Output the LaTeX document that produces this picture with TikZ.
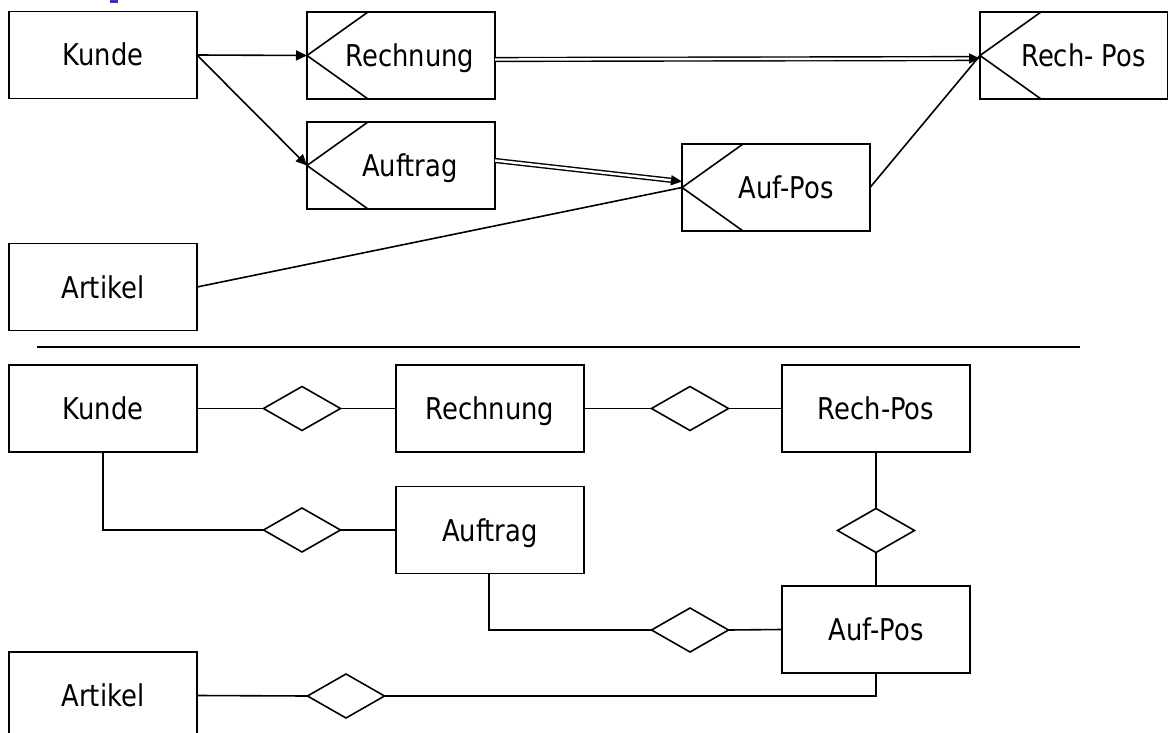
\documentclass[tikz,border=0pt]{standalone}
\usepackage{fontspec}
\setmainfont{DejaVu Sans}[FakeStretch=0.86]
\usetikzlibrary{arrows.meta,shapes.geometric,calc}
\definecolor{frag}{RGB}{51,51,204}
\begin{document}
\begin{tikzpicture}[x=1pt,y=-1pt,
  ent/.style={draw, line width=1.7pt, minimum width=188pt, minimum height=87pt, inner sep=0pt, outer sep=0pt, text height=22pt, text depth=0pt, font=\fontsize{30}{36}\selectfont},
  rel/.style={draw, diamond, line width=1.6pt, minimum width=77pt, minimum height=44pt, inner sep=0pt, outer sep=0pt, shape aspect=1.75},
  con/.style={line width=1.6pt},
  arr/.style={line width=1.6pt, -{Triangle[length=11pt,width=10pt]}},
  dbl/.style={line width=1.4pt, double distance=2.4pt},
]
\useasboundingbox (0,0) rectangle (1168,733);
\clip (0,0) rectangle (1168,733);
\fill[frag] (110,0) rectangle (118,3.5);

% ---- top diagram ----
\node[ent] (k1) at (103,55) {Kunde};
\node[ent] (r1) at (401,55.5) {\hspace{18pt}Rechnung};
\node[ent] (rp1) at (1074,55.5) {\hspace{19pt}Rech- Pos};
\node[ent] (a1) at (401,165.5) {\hspace{18pt}Auftrag};
\node[ent] (ap1) at (776,187.5) {\hspace{20pt}Auf-Pos};
\node[ent] (ar1) at (103,287) {Artikel};

\foreach \n in {r1,rp1,a1,ap1}{
  \draw[con] ([xshift=61pt]\n.north west) -- (\n.west) -- ([xshift=61pt]\n.south west);
}

\draw[arr] (k1.east) -- (r1.west);
\draw[arr] (k1.east) -- (a1.west);

\coordinate (d1s) at ([yshift=-4pt]r1.east);
\coordinate (d1e) at ([yshift=-3pt]rp1.west);
\draw[dbl, shorten >=10pt] (d1s) -- (d1e);
\draw[arr] ($(d1e)!11pt!(d1s)$) -- (d1e);

\coordinate (d2s) at ([yshift=5pt]a1.east);
\coordinate (d2e) at ([yshift=6pt]ap1.west);
\draw[dbl, shorten >=10pt] (d2s) -- (d2e);
\draw[arr] ($(d2e)!11pt!(d2s)$) -- (d2e);

\draw[con] (ar1.east) -- (ap1.west);
\draw[con] (ap1.east) -- (rp1.west);

\coordinate (ruleL) at (37,347);
\coordinate (ruleR) at (1080,347);
\draw[con] (ruleL) -- (ruleR);

% ---- bottom diagram ----
\node[ent] (k2) at (103,408.5) {Kunde};
\node[ent] (r2) at (490,408.5) {Rechnung};
\node[ent] (rp2) at (876,408.5) {Rech-Pos};
\node[ent] (a2) at (490,530) {Auftrag};
\node[ent] (ap2) at (876,629.5) {Auf-Pos};
\node[ent] (ar2) at (103,695.5) {Artikel};

\node[rel] (d1) at (302,408.5) {};
\node[rel] (d2) at (690,408.5) {};
\node[rel] (d3) at (302,530) {};
\node[rel] (d4) at (876,530.5) {};
\node[rel] (d5) at (690,630) {};
\node[rel] (d6) at (346,696) {};

\draw[con] (k2.east) -- (d1.west) (d1.east) -- (r2.west);
\draw[con] (r2.east) -- (d2.west) (d2.east) -- (rp2.west);
\draw[con] (k2.south) |- (d3.west) (d3.east) -- (a2.west);
\draw[con] (rp2.south) -- (d4.north) (d4.south) -- (ap2.north);
\draw[con] ([xshift=-1pt]a2.south) |- (d5.west) (d5.east) -- (ap2.west);
\draw[con] (ar2.east) -- (d6.west) (d6.east) -| (ap2.south);
\end{tikzpicture}
\end{document}
